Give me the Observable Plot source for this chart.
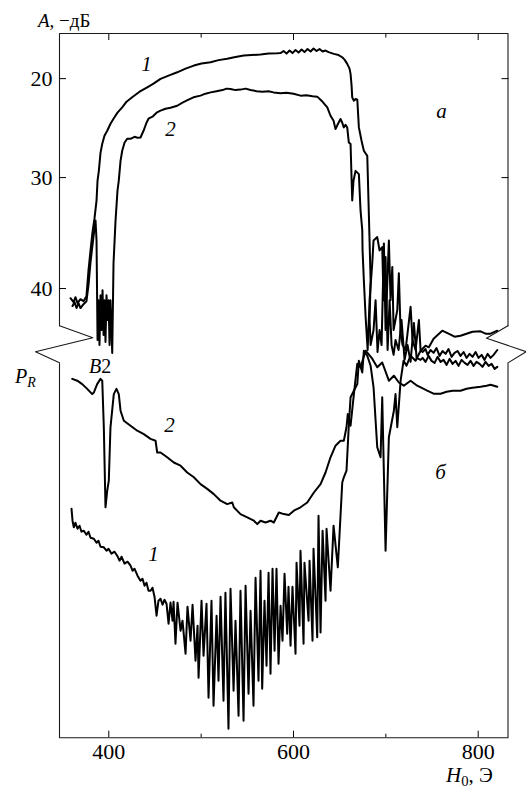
<!DOCTYPE html>
<html><head><meta charset="utf-8">
<script src="https://cdn.jsdelivr.net/npm/d3@7"></script>
<script src="https://cdn.jsdelivr.net/npm/@observablehq/plot@0.6"></script>
<style>
body{margin:0;background:#fff}
#wrap{position:relative;width:526px;height:789px;overflow:hidden;color:#000;background:#fff}
#wrap svg{position:absolute;left:0;top:0}
.lab{position:absolute;white-space:nowrap;line-height:1}
.lab sub{font-size:0.7em;vertical-align:-0.3em;line-height:0}
</style></head><body>
<div id="wrap"></div>
<script>
// ---- scales / ticks ----
const xDomain = [346.6, 832.3];          // H0, Oe (frame edges)
const xTicksMajor = [400, 600, 800];
const xTicksMinor = [500, 700];
const aTicks = [20, 30, 40];              // A, -dB (top panel)
const aTickAxis = [20, 30, 41.21];        // axis spacing of those ticks (the 30-40 interval is drawn longer)
const aTop = 15.44, aBreak = 43.35, aBreakEnd = 46.70;
const pTop = 93.55;                       // P_R (arbitrary units) at bottom-panel top

// ---- top panel (a): A, -dB vs H0 ----
const topCurve1 = [
[358.5,40.87],[361.8,41.23],[363.9,40.78],[366.1,41.32],[369.3,40.96],[372.6,41.14],[375.8,40.69],[378.0,38.36],[380.2,36.56],[382.3,34.94],[384.5,33.68],[386.7,32.07],[387.8,30.27],[389.2,29.32],[391.0,27.50],[392.9,26.58],[395.3,25.77],[398.3,25.27],[401.8,24.56],[405.1,24.05],[409.4,23.44],[414.5,22.91],[419.2,22.33],[425.3,21.89],[433.3,21.32],[441.6,20.88],[448.4,20.51],[456.0,20.03],[464.7,19.70],[474.1,19.36],[483.1,18.99],[492.1,18.68],[500.4,18.48],[510.2,18.35],[518.8,18.13],[528.2,18.00],[537.2,17.82],[546.2,17.67],[554.6,17.62],[564.3,17.57],[573.0,17.47],[582.4,17.44],[586.0,17.42],[589.2,17.21],[592.5,17.47],[595.7,17.16],[598.9,17.42],[602.2,17.11],[605.5,17.37],[608.7,17.06],[611.9,17.32],[615.2,17.01],[618.5,17.26],[621.7,16.96],[624.9,17.21],[628.2,17.01],[631.5,17.26],[634.7,17.16],[638.0,17.32],[643.7,17.50],[648.8,17.62],[652.8,17.84],[655.3,18.08],[658.2,18.51],[660.7,18.99],[661.8,19.52],[662.9,20.71],[663.6,21.89],[665.4,22.23],[667.2,22.06],[669.1,22.13],[670.8,24.93],[673.7,26.28],[676.2,27.29],[679.9,27.80],[681.7,33.56],[683.5,39.25],[682.4,42.84],[683.5,45.09],[686.7,43.74],[688.9,41.05],[691.0,45.72],[693.2,43.74],[695.4,45.09],[697.9,35.93],[699.7,43.74],[703.3,35.66],[705.1,41.05],[707.0,38.06],[708.4,43.74],[712.4,41.95],[714.1,38.62],[716.0,44.01],[718.1,45.09],[721.4,45.54],[726.8,41.65],[728.9,44.64],[732.2,45.54],[735.8,42.84],[737.6,45.54],
[739.8,45.72],[743.0,45.45],[745.2,45.98],[748.4,45.54],[751.7,45.80],[754.9,45.36],[758.2,46.07],[761.4,45.63],[764.7,45.89],[767.9,45.45],[771.2,46.16],[774.4,45.80],[777.7,45.63],[780.9,46.07],[784.2,45.72],[787.4,46.25],[790.7,45.89],[793.9,46.16],[797.2,45.72],[800.4,46.25],[803.7,45.98],[806.9,46.43],[810.2,45.89],[813.4,46.25],[816.7,45.98],[820.7,45.54]
];
const topCurve2 = [
[360.7,41.58],[362.9,41.23],[365.0,41.76],[367.2,41.32],[369.3,41.76],[372.6,41.41],[375.8,41.14],[378.0,39.70],[380.2,37.63],[382.3,36.11],[384.5,34.58],[385.6,33.86],[386.7,35.66],[387.8,44.64],[388.8,41.05],[389.9,45.09],[391.0,40.60],[392.1,43.74],[393.2,40.15],[394.3,44.19],[395.3,41.05],[396.4,44.82],[397.5,40.60],[398.6,42.84],[399.7,41.05],[400.8,45.09],[401.8,41.05],[403.7,45.80],[405.1,37.72],[407.3,33.86],[409.4,31.17],[410.8,30.27],[412.7,28.31],[414.5,27.29],[417.0,26.48],[419.9,26.08],[423.5,26.08],[427.8,25.88],[431.1,25.98],[434.3,25.95],[437.6,25.27],[440.8,24.46],[443.0,24.05],[447.3,23.85],[451.7,23.44],[456.0,23.24],[461.4,23.04],[466.8,22.94],[474.1,22.74],[479.8,22.43],[486.3,22.13],[491.7,21.89],[499.3,21.72],[504.7,21.52],[510.2,21.39],[516.7,21.27],[523.1,21.16],[527.5,21.01],[531.8,21.04],[537.2,21.16],[542.6,21.11],[548.1,21.01],[553.5,21.14],[560.0,21.27],[566.5,21.32],[573.0,21.27],[578.4,21.39],[586.0,21.47],[592.5,21.42],[600.0,21.52],[607.6,21.72],[614.1,21.67],[620.6,21.77],[625.7,21.82],[630.4,22.23],[636.6,22.91],[640.1,23.75],[643.4,24.25],[645.5,25.10],[647.7,24.66],[650.9,24.08],[652.8,24.46],[654.5,24.93],[656.4,24.66],[658.2,24.93],[659.9,26.45],[661.8,26.61],[663.6,32.07],[665.0,30.27],[667.2,29.32],[670.8,29.65],[672.6,32.96],[674.5,34.76],[674.8,36.56],[676.2,39.25],[678.1,42.55],[680.3,45.54],[682.4,41.05],[685.3,37.72],[686.7,35.66],[690.7,35.36],[693.2,36.56],[696.1,36.26],[697.5,41.05],[699.7,37.16],[701.9,45.54],[704.1,41.05],[706.2,45.09],[708.4,45.98],[710.5,44.64],[713.8,45.54],[717.0,42.84],[720.3,46.43],[723.5,45.09],[726.8,46.61],[730.4,43.11],[733.3,46.25],[737.6,46.43],
[739.8,46.25],[743.0,46.61],[746.3,46.07],[749.5,46.52],[752.8,46.70],[756.0,46.16],[759.3,46.61],[762.5,46.43],[765.8,46.88],[769.0,46.34],[772.3,46.79],[775.5,46.52],[778.7,46.97],[782.0,46.43],[785.3,46.70],[788.5,46.88],[791.7,46.52],[795.0,46.97],[798.2,46.61],[801.5,46.79],[804.7,47.06],[808.0,46.61],[811.3,46.97],[814.5,46.79],[817.8,47.24],[820.7,47.06]
];

// ---- bottom panel (б): P_R (arb. units) vs H0 ----
const bottomCurve1 = [
[359.6,57.25],[360.7,54.25],[362.1,52.6],[363.9,53.75],[366.1,52.25],[368.3,53],[370.4,51.5],[372.9,51.75],[375.8,50.75],[378.0,51.5],[380.2,50],[383.8,49.75],[386.7,48.75],[388.8,49.25],[391.0,47.75],[394.6,47.6],[397.5,46.75],[399.7,47.25],[402.9,46],[406.2,46.5],[409.1,45.5],[411.6,44.25],[413.8,45.25],[417.0,43.5],[420.3,44],[423.5,43],[425.7,41.75],[427.8,42.25],[431.1,40.5],[434.3,39.25],[436.5,39.75],[438.7,38],[440.8,38.75],[443.0,36.75],[445.2,36.75],[447.3,37.5],[449.5,35.25],[451.7,30.5],[453.8,34.25],[456.0,34.75],[458.2,33.25],[460.3,34.5],[462.5,33.5],[464.7,28.5],[466.8,33.8],
[469.0,29.25],[470.1,34],[472.2,23.5],[474.4,33.75],[477.7,26.75],[479.8,29.25],[483.1,21],[485.2,32.75],[488.5,24.25],[490.7,33.25],[493.9,19.25],[496.1,28],[497.2,15],[500.4,34.25],[502.6,20.5],[505.8,33.5],[508.0,10],[511.2,34.25],[513.4,8],[516.7,30.5],[518.8,14.25],[521.0,35.25],[524.2,9.25],[526.3,36.25],[529.6,2.25],[531.8,37.25],[535.1,11.75],[537.2,29.25],[540.5,5.5],[542.6,36.75],[545.9,4.25],[548.1,38],[551.3,11],[553.5,31.75],[556.7,8],[558.9,40],[562.1,14.25],[564.3,41.75],[566.1,12.25],[568.6,34.25],[570.8,18],[573.0,41.25],[575.1,16],[577.3,42.25],[579.5,21.75],[581.6,42.25],[583.8,18.5],[586.0,33],[588.1,24.25],[590.3,41],[593.2,26],[594.6,37.75],[596.8,23],[598.9,37.75],[602.2,21],[603.3,43.75],[606.5,28],[607.6,46.75],[610.9,23.5],[611.9,43.75],[616.3,29.25],[617.4,44.25],[620.6,24.25],[621.7,47.25],[625.7,25.1],[627.1,55.5],[629.3,26.3],[631.5,51.75],[634.7,34.25],[635.8,52.25],[640.1,36.75],[643.4,53],[648.0,42.6],[652.8,63.8],
[654.5,65.1],[657.4,66.75],[659.6,76.75],[661.8,85.1],[665.4,86.75],[669.1,88.4],[670.8,94.25],[674.5,91.3],[676.2,96.75],[679.9,95.5],[683.5,93],[686.7,87.6],[690.7,72.6],[694.3,70.1],[696.1,85.1],[697.9,66],[699.7,46.75],[703.3,75.1],[708.7,81.75],[710.5,85.9],[712.4,77.6],[716.0,89.25],[719.2,94.25],[722.4,93],[726.8,95.5],[732.2,94.25],[737.6,96.75],[743.0,98],[746.6,97.6],[751.7,99.75],[761.1,101.75],[767.9,101],[774.4,100.25],[780.9,100.5],[787.4,101],[793.9,101.5],[802.6,101.6],[808.0,101],[813.4,101],[820.7,101.75]
];
const bottomCurve2 = [
[360.4,89.7],[365.8,89.25],[371.2,88.4],[376.6,87.2],[382.0,85.9],[383.8,86.3],[387.4,88.4],[391.0,89.7],[392.9,89.25],[394.6,77.6],[396.4,57.6],[398.3,61.75],[400.0,64.25],[401.8,77.6],[405.4,85.9],[408.3,87.2],[410.8,85.9],[412.7,81.75],[416.3,79.25],[423.5,78],[430.8,76.75],[437.9,75.9],[445.2,74.7],[450.6,74.25],[452.4,71.3],[456.0,71.3],[463.2,70.1],[470.4,68.8],[477.7,68],[484.9,66.3],[492.1,65.1],[499.3,63.4],[506.6,62.2],[513.7,60.9],[521.0,59.25],[528.2,58.4],[533.7,58.8],[535.4,57.6],[542.6,55.9],[549.9,55.1],[557.1,54.25],[560.8,53.4],[564.3,54.25],[569.7,53.8],[575.1,54.25],[578.7,53.8],[584.1,56.3],[589.5,55.9],[594.9,55.7],[600.4,56.75],[607.6,57.6],[614.9,58.8],[622.1,61.3],[629.3,63.4],[634.7,66.3],[640.1,70.1],[645.5,73],[650.9,74.25],[654.5,74.25],[657.4,77.6],[658.8,80.9],[661.8,78],[665.4,85.9],[669.1,93.5],[672.6,92.6],[678.1,96.75],[685.3,94.75],[690.7,92.6],[696.1,93.8],[703.3,89.25],[708.7,90.5],[714.1,88.8],[719.5,88],[726.8,89.25],[734.0,88],[744.8,86.75],[751.7,86],[759.3,86],[765.8,86.5],[772.3,86.75],[780.9,86.75],[787.4,87.25],[793.9,87.5],[802.6,87.75],[809.1,88],[813.4,88.25],[820.7,87.75]
];

// curve labels (data coordinates of each panel)
const topLabels = [{h: 440.8, v: 18.51, t: "1"}, {h: 466.8, v: 25.10, t: "2"}, {h: 760.3, v: 23.27, t: "а"}];
const bottomLabels = [{h: 465.7, v: 78.0, t: "2"}, {h: 759.3, v: 66.4, t: "б"}, {h: 448.4, v: 45.9, t: "1"}];

// frame outline pieces (in panel data units)
const [X0, X1] = xDomain;
const topFrame = [[X0, aBreak], [X0, aTop], [X1, aTop], [X1, aBreak]];
const leftBreak = [[X0, aBreak], [382.7, 44.43], [320.6, 45.69], [X0, aBreakEnd]];
const rightBreak = [[X1, aBreak], [809.0, 44.48], [852.0, 45.69], [X1, aBreakEnd]];
const bottomFrame = [[X0, pTop], [X0, 0], [X1, 0], [X1, pTop]];

// A axis of the original is not uniform: map A to axis units (piecewise linear, extrapolating)
const warp = d3.scaleLinear().domain(aTicks).range(aTickAxis);

// ---- pick an installed serif face (canvas width probe) ----
function pickFont(cands) {
  const ctx = document.createElement("canvas").getContext("2d");
  const s = "mmmWWWlli 0123456789 дБЭ ABCxyz";
  const w = (f) => { ctx.font = "40px " + f; return ctx.measureText(s).width; };
  const base = [w("monospace"), w("sans-serif")];
  for (const c of cands) {
    const a = w(`"${c}", monospace`), b = w(`"${c}", sans-serif`);
    if (a !== base[0] && b !== base[1]) return c;
  }
  return null;
}
const found = pickFont(["Liberation Serif", "DejaVu Serif", "Tinos", "Times New Roman", "Noto Serif"]);
const FONT = (found ? `"${found}", ` : "") + "serif";

// ---- drawing ----
const wrap = document.getElementById("wrap");
wrap.style.fontFamily = FONT;
const svgStyle = {fontFamily: FONT, fontSize: "22px", background: "transparent", overflow: "visible", color: "#000"};
const curve = (data, fy = (v) => v) => Plot.line(data, {x: d => d[0], y: d => fy(d[1]), stroke: "#000", strokeWidth: 2, strokeLinejoin: "round", strokeLinecap: "round"});
const outline = (data, fy = (v) => v) => Plot.line(data, {x: d => d[0], y: d => fy(d[1]), stroke: "#1a1a1a", strokeWidth: 1.1});
const blank = () => "";
const aFormat = (u) => String(Math.round(warp.invert(u)));

const topPlot = Plot.plot({
  width: 526, height: 789,
  marginLeft: 59, marginRight: 18.5, marginTop: 33, marginBottom: 463.8,
  style: svgStyle,
  x: {domain: xDomain, axis: null},
  y: {domain: [warp(aTop), warp(aBreak)], reverse: true, axis: null},
  marks: [
    outline(topFrame, warp), outline(leftBreak, warp), outline(rightBreak, warp),
    Plot.axisX({anchor: "top", ticks: xTicksMajor, tickSize: -6, tickFormat: blank, label: null}),
    Plot.axisX({anchor: "top", ticks: xTicksMinor, tickSize: -3.5, tickFormat: blank, label: null}),
    Plot.axisY({anchor: "left", ticks: aTicks.map(warp), tickSize: -7, tickFormat: blank, label: null}),
    Plot.axisY({anchor: "right", ticks: aTicks.map(warp), tickSize: -7, tickFormat: blank, label: null}),
    Plot.axisY({anchor: "left", ticks: aTicks.map(warp), tickSize: 0, tickPadding: 7, fontSize: 22, tickFormat: aFormat, label: null}),
    curve(topCurve1, warp), curve(topCurve2, warp),
    Plot.text(topLabels, {x: "h", y: d => warp(d.v), text: "t", fontStyle: "italic", fontSize: 21})
  ]
});

const bottomPlot = Plot.plot({
  width: 526, height: 789,
  marginLeft: 59, marginRight: 18.5, marginTop: 363, marginBottom: 51.8,
  style: svgStyle,
  x: {domain: xDomain, axis: null},
  y: {domain: [0, pTop], axis: null},
  marks: [
    outline(bottomFrame),
    Plot.axisX({anchor: "bottom", ticks: xTicksMajor, tickSize: -6.5, tickFormat: blank, label: null}),
    Plot.axisX({anchor: "bottom", ticks: xTicksMinor, tickSize: -3.5, tickFormat: blank, label: null}),
    Plot.axisX({anchor: "bottom", ticks: xTicksMajor, tickSize: 0, tickPadding: 6, fontSize: 22, label: null}),
    curve(bottomCurve1), curve(bottomCurve2),
    Plot.text(bottomLabels, {x: "h", y: "v", text: "t", fontStyle: "italic", fontSize: 21})
  ]
});

wrap.appendChild(bottomPlot);
wrap.appendChild(topPlot);

function addLabel(html, left, baseline, size) {
  const d = document.createElement("div");
  d.className = "lab";
  d.style.left = left + "px";
  d.style.top = (baseline - 0.8375 * size) + "px";
  d.style.fontSize = size + "px";
  d.innerHTML = html;
  wrap.appendChild(d);
}
addLabel('<i>A</i>, −дБ', 38, 26.5, 19);
addLabel('<i>P</i><sub><i>R</i></sub>', 15, 383, 20);
addLabel('<i>B</i>2', 89, 373, 20);
addLabel('<i>H</i><sub>0</sub>, Э', 446, 783, 21);
</script>
</body></html>
